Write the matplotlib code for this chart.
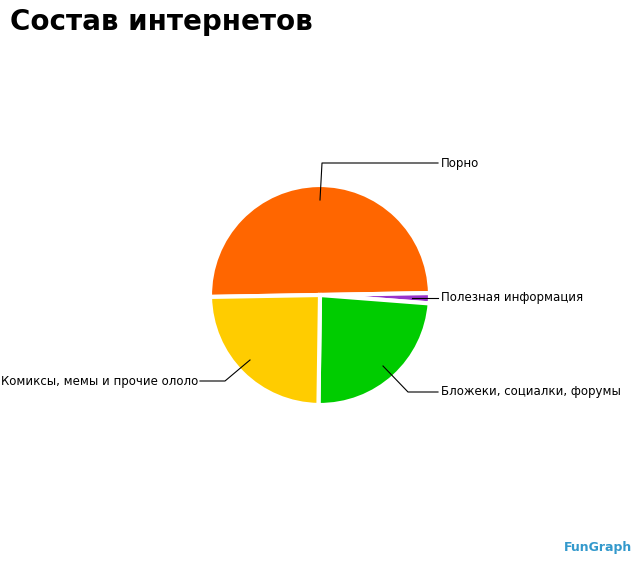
import matplotlib.pyplot as plt

labels = ['Порно', 'Полезная информация', 'Бложеки, социалки, форумы', 'Комиксы, мемы и прочие ололо']
values = [50, 1.5, 24, 24.5]
colors = ['#ff6600', '#9933cc', '#00cc00', '#ffcc00']

W, H = 640, 565
fig = plt.figure(figsize=(6.4, 5.65), dpi=100)
cx, cy, r = 320, 295, 110
ax = fig.add_axes([(cx - r) / W, (H - cy - r) / H, 2 * r / W, 2 * r / H])
ax.pie(values, colors=colors, startangle=181, counterclock=False,
       wedgeprops=dict(edgecolor='white', linewidth=3))
ax.set_xlim(-1, 1)
ax.set_ylim(-1, 1)
ax.set_aspect('auto')


def d(px, py):
    return (px - cx) / r, (cy - py) / r


# leader lines in pixel coords: (points, text position, alignment)
leaders = [
    ([(320, 200), (322, 163), (438, 163)], (441, 163), 'left'),
    ([(412, 298), (438, 298)], (441, 298), 'left'),
    ([(383, 366), (408, 392), (438, 392)], (441, 392), 'left'),
    ([(250, 360), (225, 381), (200, 381)], (198, 381), 'right'),
]
for lab, (pts, tp, ha) in zip(labels, leaders):
    xs, ys = zip(*[d(*p) for p in pts])
    ax.plot(xs, ys, color='black', lw=0.8, clip_on=False)
    ax.text(*d(*tp), lab, ha=ha, va='center', fontsize=8.5, clip_on=False)

fig.text(10 / W, 1 - 22 / H, 'Состав интернетов', fontsize=20, fontweight='bold',
         ha='left', va='center')
fig.text(1 - 8 / W, 17 / H, 'FunGraph', fontsize=9, fontweight='bold',
         color='#3399cc', ha='right', va='center')
fig.savefig('out.png', dpi=100)
